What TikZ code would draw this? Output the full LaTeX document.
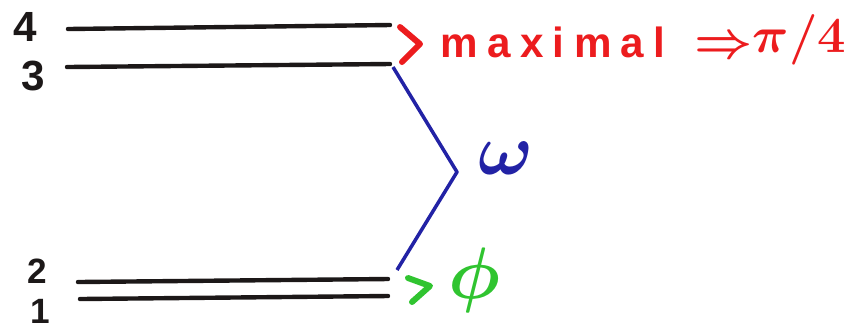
\documentclass[tikz,border=0pt]{standalone}
\usepackage{amsmath}
\usepackage{fontspec}
\setsansfont{Liberation Sans}
\usetikzlibrary{positioning}
\definecolor{inkred}{RGB}{236,28,30}
\definecolor{inkblue}{RGB}{34,34,165}
\definecolor{inkgreen}{RGB}{48,196,48}
\definecolor{inkblack}{RGB}{28,24,24}
\tikzset{
  level/.style={draw=inkblack,line width=1.25pt,line cap=round},
  levnum/.style={font=\sffamily\bfseries\large,text=inkblack,inner sep=0pt},
  brak/.style={line width=1.7pt,line cap=round,line join=round},
}

\begin{document}
\begin{tikzpicture}[x=0.01cm,y=-0.01cm]
\useasboundingbox (0,0) rectangle (845,326);

% energy levels
\coordinate (l4a) at (68,29);  \coordinate (l4b) at (390,25);
\coordinate (l3a) at (67,67);  \coordinate (l3b) at (390,64);
\coordinate (l2a) at (78,282); \coordinate (l2b) at (388,279);
\coordinate (l1a) at (80,299); \coordinate (l1b) at (388,296);

\draw[level] (l4a) -- (l4b);
\draw[level] (l3a) -- (l3b);
\draw[level] (l2a) -- (l2b);
\draw[level] (l1a) -- (l1b);

\node[levnum] (n4) at (25,27) {4};
\node[levnum] (n3) at (33,76) {3};
\node[levnum,font=\sffamily\bfseries\normalsize] (n2) at (37,271) {2};
\node[levnum,font=\sffamily\bfseries\normalsize] (n1) at (40,311) {1};

% red bracket 4-3
\coordinate (r1) at (400,27);
\coordinate (r2) at (420,44);
\coordinate (r3) at (402,62);
\draw[brak,inkred] (r1) -- (r2) -- (r3);
\node[anchor=base west,text=inkred,inner sep=0pt,
      font=\sffamily\bfseries\large\addfontfeature{LetterSpace=22}] (maxi) at (440,57) {maximal};
\node[anchor=base west,text=inkred,inner sep=0pt,font=\Large] (impl) at (694,57) {$\boldsymbol{\Rightarrow}$};
\node[anchor=base west,text=inkred,inner sep=0pt,font=\Large] (quart) at (752,52) {$\boldsymbol{\pi/4}$};

% blue bracket 3-2
\coordinate (b1) at (393,67);
\coordinate (b2) at (457,172);
\coordinate (b3) at (397,270);
\draw[inkblue,line width=1pt,line join=round] (b1) -- (b2) -- (b3);
\node[text=inkblue,inner sep=0pt,font=\huge] (om) at (506,158) {$\boldsymbol{\omega}$};

% green bracket 2-1
\coordinate (g1) at (408,278);
\coordinate (g2) at (430,286);
\coordinate (g3) at (412,302);
\draw[brak,inkgreen] (g1) -- (g2) -- (g3);
\node[anchor=base,text=inkgreen,inner sep=0pt,font=\huge] (ph) at (474,298) {$\boldsymbol{\phi}$};

\end{tikzpicture}
\end{document}
